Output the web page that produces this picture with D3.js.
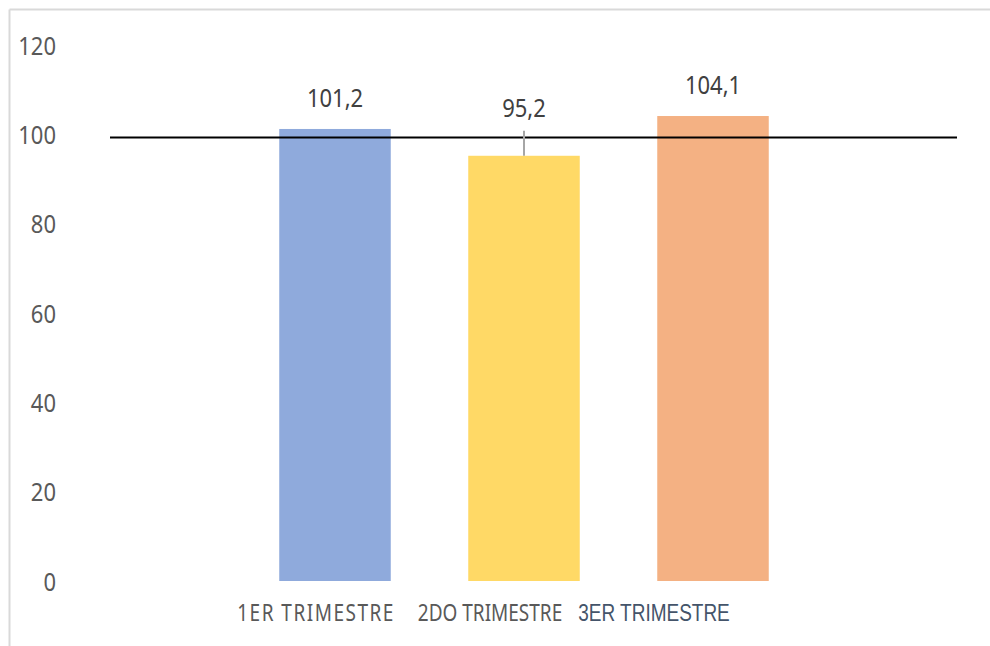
<!DOCTYPE html>
<html>
<head>
<meta charset="utf-8">
<script src="https://cdn.jsdelivr.net/npm/d3@7"></script>
<style>
  body { margin: 0; background: #fff; }
  svg { display: block; }
</style>
</head>
<body>
<div id="plot"></div>
<script>
// chart data
const categories = ["1ER TRIMESTRE", "2DO TRIMESTRE", "3ER TRIMESTRE"];
const values = [101.2, 95.2, 104.1];
const valueLabels = ["101,2", "95,2", "104,1"];
const barColors = ["#8faadc", "#ffd966", "#f4b183"];
const yTicks = [0, 20, 40, 60, 80, 100, 120];
const refValue = 99.3;

const W = 990, H = 646;
const stretch = 1.18; // the screenshot text looks a bit tall

const svg = d3.select("#plot").append("svg")
  .attr("width", W)
  .attr("height", H);

// chart frame (only top + left show in the crop)
svg.append("line").attr("x1", 9.5).attr("x2", W).attr("y1", 9.5).attr("y2", 9.5)
  .style("stroke", "#d9d9d9").style("stroke-width", 2);
svg.append("line").attr("x1", 9.5).attr("x2", 9.5).attr("y1", 9.5).attr("y2", H)
  .style("stroke", "#d9d9d9").style("stroke-width", 2);

const y = d3.scaleLinear().domain([0, 120]).range([581, 45]);

const x = d3.scaleBand()
  .domain(categories)
  .range([240.5, 807.5])
  .paddingInner(0.41)
  .paddingOuter(0.205);

// y axis labels
const yAxis = d3.axisLeft(y).tickValues(yTicks).tickSize(0).tickPadding(0);
const ya = svg.append("g").attr("transform", "translate(56,0)").call(yAxis);
ya.select(".domain").remove();
ya.selectAll("text")
  .attr("x", 0)
  .attr("dy", "0.35em")
  .attr("transform", `scale(1,${stretch})`)
  .attr("y", 0)
  .style("font-family", "'Noto Sans', sans-serif")
  .style("font-size", "22px")
  .style("fill", "#595959");

// bars
svg.selectAll(".bar")
  .data(values)
  .join("rect")
    .attr("class", "bar")
    .attr("x", (d, i) => x(categories[i]))
    .attr("width", x.bandwidth())
    .attr("y", d => y(d))
    .attr("height", d => y(0) - y(d))
    .style("fill", (d, i) => barColors[i]);

// reference line
svg.append("line")
  .attr("x1", 110).attr("x2", 957)
  .attr("y1", y(refValue)).attr("y2", y(refValue))
  .style("stroke", "#000").style("stroke-width", 2);

// data labels; the middle one is lifted with a leader line
const lift = [0, 17, 0];
svg.selectAll(".leader")
  .data(values.filter((d, i) => lift[i] > 0))
  .join("line")
    .attr("class", "leader")
    .attr("x1", d => x(categories[values.indexOf(d)]) + x.bandwidth() / 2)
    .attr("x2", d => x(categories[values.indexOf(d)]) + x.bandwidth() / 2)
    .attr("y1", d => y(d) - 25)
    .attr("y2", d => y(d))
    .style("stroke", "#a6a6a6").style("stroke-width", 2);

svg.selectAll(".vlabel")
  .data(values)
  .join("text")
    .attr("class", "vlabel")
    .attr("transform", (d, i) =>
      `translate(${x(categories[i]) + x.bandwidth() / 2},${y(d) - 31 - lift[i]}) scale(1,${stretch})`)
    .attr("text-anchor", "middle")
    .attr("dy", "0.35em")
    .style("font-family", "'Noto Sans', sans-serif")
    .style("font-size", "22px")
    .style("fill", "#404040")
    .text((d, i) => valueLabels[i]);

// category labels (pasted-in look: offset and mixed fonts)
const catDx = [-19, -34, -59];
const catFonts = ["'Noto Sans', sans-serif", "'Noto Sans', sans-serif", "'Liberation Sans', Arial, sans-serif"];
const catColors = ["#595959", "#595959", "#44546a"];
const catSpacing = ["1.5px", "0px", "0px"];
const catSize = ["19px", "19px", "19px"];
svg.selectAll(".xlabel")
  .data(categories)
  .join("text")
    .attr("class", "xlabel")
    .attr("transform", (d, i) =>
      `translate(${x(d) + x.bandwidth() / 2 + catDx[i]},613) scale(1,${stretch + 0.05})`)
    .attr("text-anchor", "middle")
    .attr("dy", "0.35em")
    .style("font-family", (d, i) => catFonts[i])
    .style("font-size", (d, i) => catSize[i])
    .style("letter-spacing", (d, i) => catSpacing[i])
    .style("fill", (d, i) => catColors[i])
    .text(d => d);
</script>
</body>
</html>
